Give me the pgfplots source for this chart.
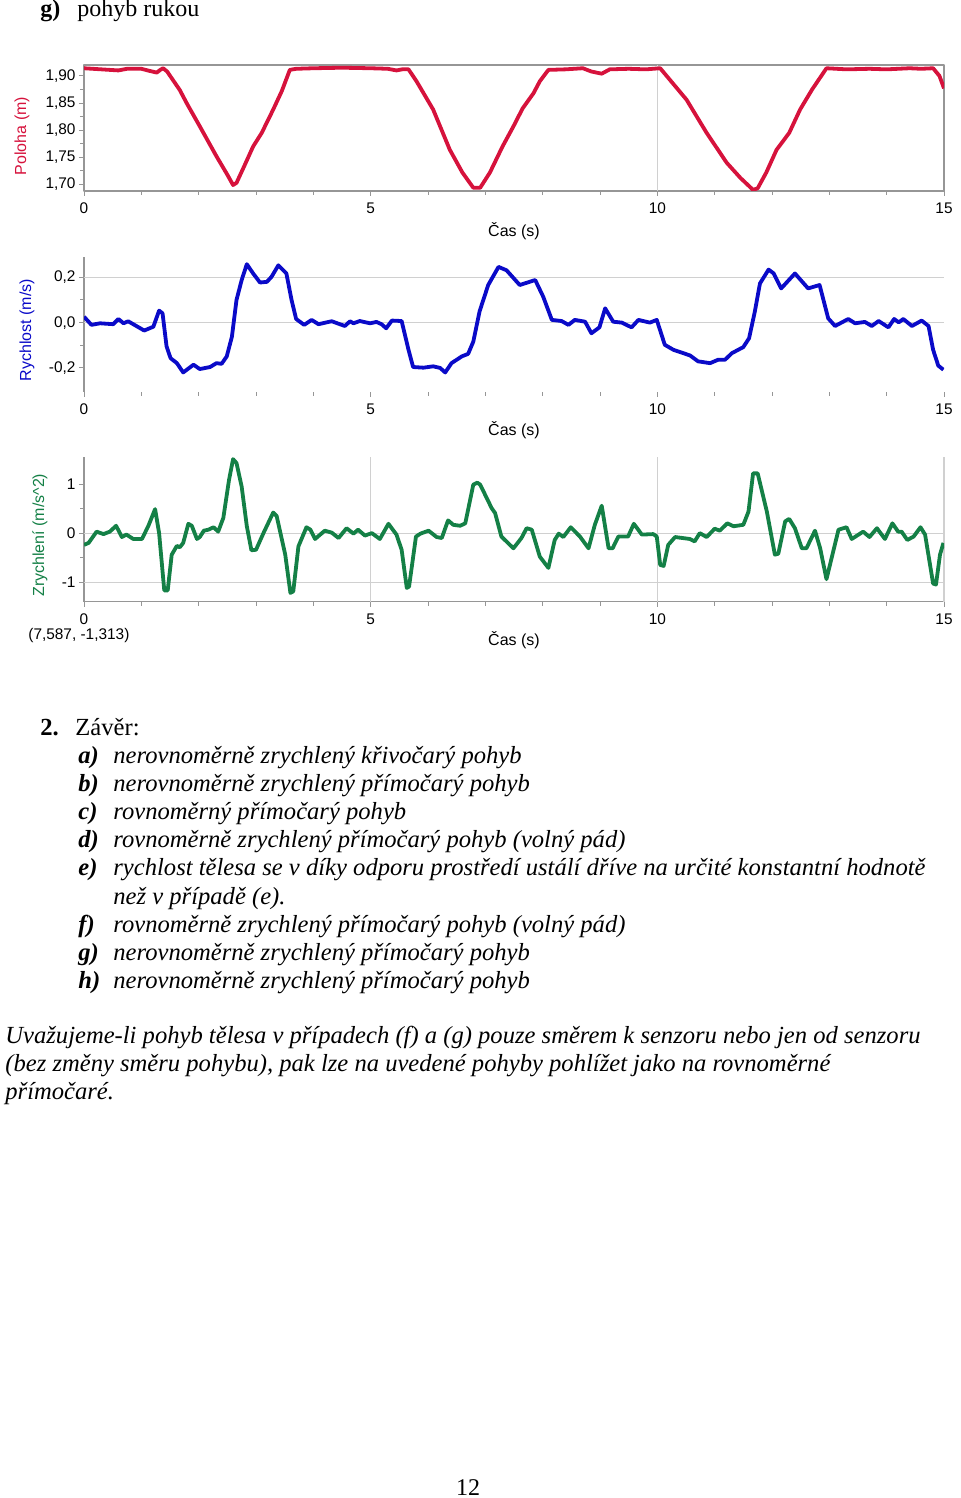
\documentclass[border=0pt]{standalone}
\usepackage{fontspec}
\setmainfont{Liberation Serif}
\newfontfamily\arial{Liberation Sans}
\usepackage{pgfplots}
\pgfplotsset{compat=1.18}
\definecolor{posred}{RGB}{214,18,60}
\definecolor{velblue}{RGB}{10,10,200}
\definecolor{accgreen}{RGB}{20,128,70}
\definecolor{axisgray}{RGB}{150,150,150}
\definecolor{gridgray}{RGB}{208,208,208}
\newcommand{\tickfont}{\arial\fontsize{7.7}{9}\selectfont}
\newcommand{\labfont}{\arial\fontsize{8}{9.5}\selectfont}
\pgfplotsset{
  lp/.style={
    scale only axis, width=430pt, xmin=0, xmax=15,
    xtick={0,5,10,15}, minor x tick num=4, minor y tick num=1,
    xtick pos=bottom, ytick pos=left,
    tick align=outside, major tick length=2.5pt, minor tick length=2pt,
    every tick/.style={axisgray, line width=0.5pt},
    tick label style={font=\tickfont},
    yticklabel style={xshift=1.8pt},
    /pgf/number format/assume math mode=true,
    /pgf/number format/use comma,
    xlabel={Čas (s)},
    every axis x label/.style={at={(rel axis cs:0.5,0)}, yshift=-19pt, anchor=center, font=\labfont},
    major grid style={gridgray, line width=0.6pt},
    extra tick style={grid=major, major tick length=0pt},
    line join=round,
  }
}
\begin{document}
\begin{tikzpicture}
\path[use as bounding box] (0pt,0pt) rectangle (480pt,-749pt);
% title
\node[anchor=base west, inner sep=0] at (20pt,-8.35pt) {\fontsize{12}{14}\selectfont\textbf{g)}};
\node[anchor=base west, inner sep=0] at (38.5pt,-8.35pt) {\fontsize{12}{14}\selectfont pohyb rukou};

% position
\begin{axis}[lp, at={(42pt,-32.5pt)}, anchor=north west, height=63pt,
  ymin=1.688, ymax=1.920, ytick={1.70,1.75,1.80,1.85,1.90},
  yticklabel style={/pgf/number format/.cd, fixed, fixed zerofill, precision=2, use comma},
  axis line style={axisgray, line width=0.6pt},
  extra x ticks={10}, extra x tick labels={},
  ylabel={Poloha (m)},
  every axis y label/.style={at={(rel axis cs:0,0.5)}, xshift=-31pt, yshift=-4pt, rotate=90, anchor=center, font=\labfont, text=posred},
  every axis x label/.append style={yshift=-1pt}]
\addplot[posred, line width=1.9pt] coordinates {
(0,1.914) (0.3,1.912) (0.6,1.910) (0.75,1.913) (1.0,1.913) (1.15,1.909) (1.27,1.906) (1.33,1.911) (1.38,1.914) (1.45,1.908)
(1.67,1.874) (1.80,1.848) (2.02,1.807) (2.31,1.752) (2.50,1.718) (2.60,1.699) (2.66,1.703) (2.80,1.735) (2.95,1.770) (3.10,1.795)
(3.30,1.838) (3.45,1.872) (3.59,1.911) (3.7,1.913) (4.0,1.914) (4.5,1.915) (5.0,1.914) (5.3,1.913) (5.45,1.910) (5.55,1.912)
(5.66,1.912) (5.80,1.890) (6.09,1.838) (6.38,1.764) (6.60,1.722) (6.79,1.694) (6.91,1.694) (7.08,1.722) (7.30,1.770) (7.49,1.807)
(7.65,1.840) (7.84,1.868) (7.95,1.890) (8.10,1.911) (8.40,1.912) (8.70,1.914) (8.85,1.908) (9.03,1.904) (9.17,1.912) (9.5,1.913)
(9.8,1.912) (10.05,1.914) (10.28,1.885) (10.51,1.856) (10.86,1.795) (11.21,1.740) (11.45,1.712) (11.67,1.690) (11.75,1.693) (11.90,1.722)
(12.08,1.764) (12.30,1.795) (12.49,1.838) (12.70,1.875) (12.95,1.914) (13.3,1.912) (13.7,1.913) (14.0,1.912) (14.2,1.913) (14.4,1.914)
(14.6,1.913) (14.81,1.914) (14.92,1.900) (15.0,1.877)
};
\end{axis}

% velocity
\begin{axis}[lp, at={(42pt,-128.35pt)}, anchor=north west, height=67.5pt,
  ymin=-0.305, ymax=0.291, ytick={-0.2,0,0.2},
  yticklabel style={/pgf/number format/.cd, fixed, fixed zerofill, precision=1, use comma},
  axis x line*=bottom, axis y line*=left,
  axis line style={-, axisgray, line width=0.6pt},
  x axis line style={draw=none},
  extra y ticks={0,0.2}, extra y tick labels={},
  ylabel={Rychlost (m/s)},
  every axis y label/.style={at={(rel axis cs:0,0.5)}, xshift=-28.5pt, yshift=-3pt, rotate=90, anchor=center, font=\labfont, text=velblue}]
\addplot[velblue, line width=1.9pt] coordinates {
(0,0.026) (0.13,-0.01) (0.28,-0.003) (0.51,-0.007) (0.60,0.016) (0.69,-0.003) (0.77,0.006) (1.05,-0.035) (1.21,-0.018) (1.31,0.053)
(1.37,0.041) (1.44,-0.105) (1.51,-0.157) (1.62,-0.179) (1.73,-0.22) (1.91,-0.186) (2.02,-0.205) (2.20,-0.196) (2.31,-0.179) (2.40,-0.182)
(2.49,-0.149) (2.58,-0.062) (2.66,0.10) (2.75,0.188) (2.84,0.258) (2.95,0.217) (3.07,0.177) (3.19,0.18) (3.27,0.202) (3.39,0.253)
(3.53,0.217) (3.62,0.10) (3.70,0.016) (3.84,-0.01) (3.97,0.012) (4.09,-0.007) (4.32,0.006) (4.55,-0.015) (4.64,0.006) (4.70,-0.003)
(4.81,0.007) (4.99,-0.003) (5.10,0.003) (5.19,-0.007) (5.27,-0.025) (5.37,0.009) (5.54,0.007) (5.66,-0.12) (5.74,-0.196) (5.92,-0.199)
(6.09,-0.193) (6.21,-0.20) (6.30,-0.22) (6.41,-0.179) (6.59,-0.149) (6.70,-0.138) (6.79,-0.084) (6.90,0.05) (7.05,0.166) (7.23,0.246)
(7.37,0.231) (7.60,0.166) (7.87,0.188) (8.01,0.114) (8.16,0.012) (8.33,0.007) (8.45,-0.01) (8.56,0.012) (8.74,0.004) (8.85,-0.047)
(8.99,-0.021) (9.09,0.063) (9.23,0.004) (9.38,0) (9.55,-0.021) (9.67,0.012) (9.87,0) (9.99,0.012) (10.13,-0.098) (10.28,-0.12)
(10.57,-0.145) (10.71,-0.171) (10.92,-0.179) (11.06,-0.164) (11.18,-0.164) (11.30,-0.135) (11.50,-0.108) (11.60,-0.069) (11.70,0.048) (11.79,0.173)
(11.94,0.234) (12.03,0.217) (12.16,0.151) (12.40,0.217) (12.63,0.151) (12.83,0.166) (12.98,0.019) (13.10,-0.015) (13.33,0.016) (13.45,-0.003)
(13.62,0.003) (13.74,-0.015) (13.86,0.007) (14.03,-0.021) (14.13,0.016) (14.21,0.001) (14.29,0.016) (14.44,-0.015) (14.61,0.009) (14.73,-0.015)
(14.81,-0.12) (14.90,-0.19) (14.99,-0.208)
};
\end{axis}

% acceleration
\begin{axis}[lp, at={(42pt,-228.35pt)}, anchor=north west, height=72.5pt,
  ymin=-1.40, ymax=1.56, ytick={-1,0,1},
  axis x line*=bottom, axis y line*=left,
  axis line style={-, axisgray, line width=0.6pt},
  extra y ticks={-1,0}, extra y tick labels={},
  extra x ticks={5,10,15}, extra x tick labels={},
  ylabel={Zrychlení (m/s\textasciicircum 2)},
  every axis y label/.style={at={(rel axis cs:0,0.5)}, xshift=-22pt, yshift=-3pt, rotate=90, anchor=center, font=\labfont, text=accgreen}]
\addplot[accgreen, line width=1.9pt] coordinates {
(0,-0.24) (0.08,-0.2) (0.22,0.03) (0.34,-0.02) (0.45,0.03) (0.56,0.15) (0.66,-0.08) (0.74,-0.03) (0.86,-0.12) (1.01,-0.12)
(1.12,0.14) (1.24,0.49) (1.31,0) (1.40,-1.17) (1.46,-1.17) (1.53,-0.44) (1.62,-0.26) (1.67,-0.29) (1.73,-0.2) (1.82,0.19)
(1.88,0.15) (1.97,-0.12) (2.02,-0.08) (2.09,0.05) (2.17,0.07) (2.26,0.12) (2.34,0.03) (2.43,0.31) (2.53,1.09) (2.60,1.51)
(2.66,1.43) (2.75,0.95) (2.84,0.14) (2.92,-0.35) (3.00,-0.34) (3.13,0) (3.30,0.42) (3.36,0.35) (3.51,-0.44) (3.60,-1.22)
(3.65,-1.19) (3.74,-0.27) (3.88,0.12) (3.95,0.07) (4.03,-0.12) (4.20,0.05) (4.32,0.01) (4.44,-0.10) (4.58,0.10) (4.70,-0.01)
(4.78,0.07) (4.90,-0.05) (5.02,0) (5.16,-0.12) (5.31,0.19) (5.45,-0.03) (5.54,-0.34) (5.63,-1.12) (5.67,-1.09) (5.79,-0.07)
(5.87,-0.01) (6.01,0.05) (6.15,-0.08) (6.24,-0.10) (6.35,0.26) (6.44,0.17) (6.56,0.15) (6.65,0.20) (6.79,0.99) (6.86,1.03)
(6.91,0.99) (7.11,0.51) (7.17,0.41) (7.28,-0.07) (7.49,-0.31) (7.63,-0.10) (7.72,0.10) (7.81,0.07) (7.95,-0.48) (8.10,-0.71)
(8.21,-0.14) (8.28,-0.01) (8.36,-0.08) (8.49,0.12) (8.65,-0.07) (8.80,-0.31) (8.91,0.17) (9.03,0.56) (9.15,-0.31) (9.22,-0.31)
(9.32,-0.07) (9.49,-0.07) (9.59,0.19) (9.73,-0.03) (9.93,-0.02) (9.99,-0.07) (10.05,-0.65) (10.11,-0.67) (10.19,-0.24) (10.31,-0.08)
(10.57,-0.12) (10.65,-0.17) (10.74,0) (10.86,-0.08) (11.00,0.09) (11.09,0.05) (11.22,0.20) (11.33,0.14) (11.50,0.17) (11.59,0.44)
(11.67,1.22) (11.75,1.22) (11.91,0.44) (12.05,-0.44) (12.11,-0.42) (12.23,0.24) (12.30,0.29) (12.40,0.10) (12.52,-0.31) (12.60,-0.31)
(12.75,0.05) (12.84,-0.31) (12.95,-0.94) (13.16,0.07) (13.30,0.12) (13.39,-0.12) (13.59,0.03) (13.70,-0.08) (13.83,0.10) (13.97,-0.12)
(14.10,0.20) (14.20,0.03) (14.26,0.03) (14.36,-0.14) (14.47,-0.07) (14.59,0.12) (14.67,-0.03) (14.81,-1.03) (14.86,-1.05) (14.93,-0.44)
(14.99,-0.20)
};
\end{axis}
\node[anchor=west, inner sep=0, font=\tickfont] at (14pt,-318pt) {(7,587, -1,313)};

% conclusion text
\begin{scope}[every node/.style={anchor=base west, inner sep=0, font=\fontsize{12.3}{14}\selectfont}]
\node at (20pt,-367.5pt) {\textbf{2.}};
\node at (37.5pt,-367.5pt) {Závěr:};
\foreach \lab/\txt/\yy in {
  a)/nerovnoměrně zrychlený křivočarý pohyb/381.75,
  b)/nerovnoměrně zrychlený přímočarý pohyb/395.8,
  c)/rovnoměrný přímočarý pohyb/409.85,
  d)/rovnoměrně zrychlený přímočarý pohyb (volný pád)/423.9,
  e)/rychlost tělesa se v díky odporu prostředí ustálí dříve na určité konstantní hodnotě/437.95,
  f)/rovnoměrně zrychlený přímočarý pohyb (volný pád)/466.05,
  g)/nerovnoměrně zrychlený přímočarý pohyb/480.1,
  h)/nerovnoměrně zrychlený přímočarý pohyb/494.15}{
  \node at (39pt,-\yy pt) {\textbf{\textit{\lab}}};
  \node at (56.5pt,-\yy pt) {\textit{\txt}};
}
\node at (56.5pt,-452pt) {\textit{než v případě (e).}};
\node at (2.5pt,-521.5pt) {\textit{Uvažujeme-li pohyb tělesa v případech (f) a (g) pouze směrem k senzoru nebo jen od senzoru}};
\node at (2.5pt,-535.5pt) {\textit{(bez změny směru pohybu), pak lze na uvedené pohyby pohlížet jako na rovnoměrné}};
\node at (2.5pt,-549.5pt) {\textit{přímočaré.}};
\end{scope}
\node[anchor=base, inner sep=0, font=\fontsize{12}{14}\selectfont] at (234pt,-747.5pt) {12};
\end{tikzpicture}
\end{document}
